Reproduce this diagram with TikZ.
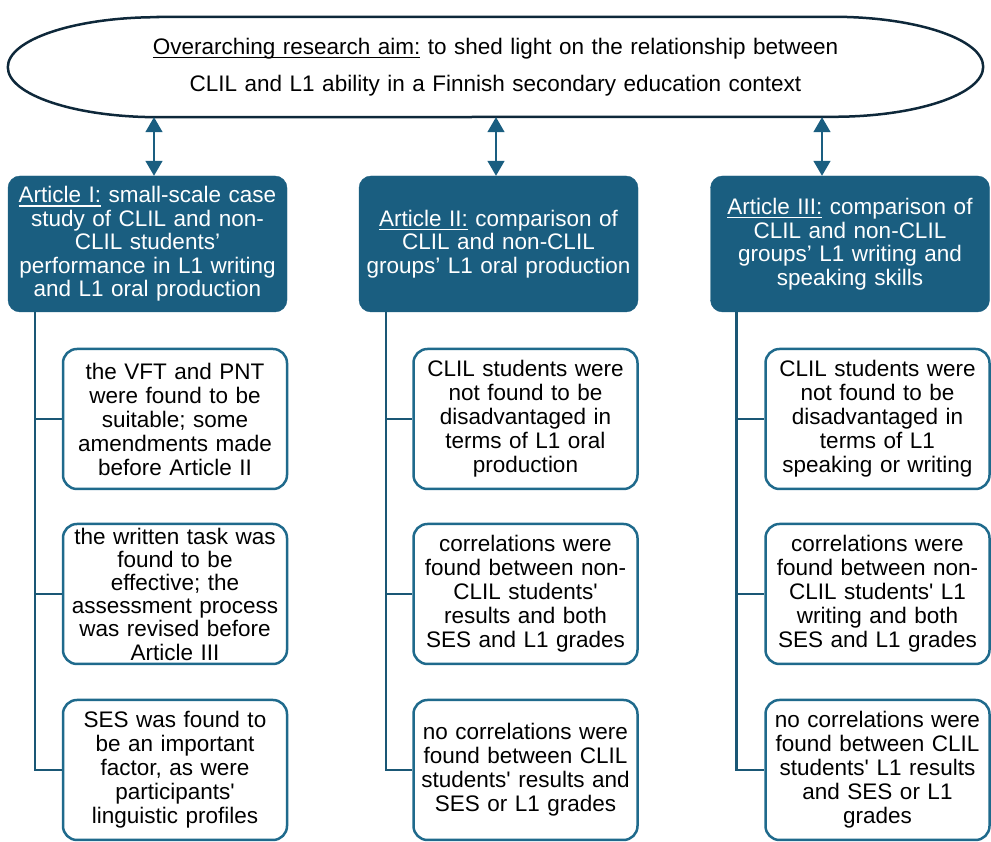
\documentclass[tikz,border=0pt]{standalone}
\usepackage{fontspec}
\setmainfont{Liberation Sans}
\usetikzlibrary{shapes,arrows.meta,positioning}
\definecolor{artblue}{HTML}{1A5E80}
\definecolor{boxblue}{HTML}{1F6A8C}
\definecolor{stemblue}{HTML}{1A5775}
\definecolor{aimnavy}{HTML}{0E283A}
\newcommand{\ulbox}[1]{\setbox0\hbox{#1}\rlap{\vrule height -2.3pt depth 3.8pt width \wd0}\box0\relax}
\tikzstyle{aim} = [rectangle, minimum width=975pt, minimum height=100pt,
    inner sep=0pt, text width=920pt, align=center, font=\fontsize{22.5}{37}\selectfont]
\tikzstyle{article} = [rectangle, draw=artblue, fill=artblue, text=white,
    text width=272pt, align=center, rounded corners=12pt, minimum width=279pt,
    minimum height=136pt, inner sep=0pt, font=\fontsize{22.5}{23.5}\selectfont]
\tikzstyle{finding} = [rectangle, draw=boxblue, line width=2.5pt, fill=white,
    text width=210pt, align=center, rounded corners=14pt, minimum width=224pt,
    minimum height=140pt, inner sep=0pt, font=\fontsize{22.5}{24}\selectfont]
\tikzstyle{link} = [draw=artblue, line width=1.5pt,
    {Triangle[width=17pt,length=15pt]}-{Triangle[width=17pt,length=15pt]}]
\tikzstyle{stem} = [draw=stemblue, line width=2.5pt]

\begin{document}
\begin{tikzpicture}[x=1pt, y=1pt, node distance=175pt]
        \useasboundingbox (0,0) rectangle (991,842);
        % Place nodes
        \node [aim] (aim) at (495.5,775) {\ulbox{Overarching research aim:} to shed light on the relationship between\\CLIL and L1 ability in a Finnish secondary education context};
        \node [article] (artA) at (147.5,598) {\ulbox{Article I:} small-scale case\\study of CLIL and non-\\CLIL students’\\performance in L1 writing\\and L1 oral production};
        \node [article] (artB) at (498.5,598) {\ulbox{Article II:} comparison of\\CLIL and non-CLIL\\groups’ L1 oral production};
        \node [article] (artC) at (850,598) {\ulbox{Article III:} comparison of\\CLIL and non-CLIL\\groups’ L1 writing and\\speaking skills};
        \node [finding, below of=artA, xshift=27.5pt] (a1) {the VFT and PNT\\were found to be\\suitable; some\\amendments made\\before Article II};
        \node [finding, below of=a1, font=\fontsize{22.5}{23.2}\selectfont] (a2) {the written task was\\found to be\\effective; the\\assessment process\\was revised before\\Article III};
        \node [finding, below of=a2, node distance=176pt] (a3) {SES was found to\\be an important\\factor, as were\\participants\textquotesingle\\linguistic profiles};
        \node [finding, below of=artB, xshift=27pt] (b1) {CLIL students were\\not found to be\\disadvantaged in\\terms of L1 oral\\production};
        \node [finding, below of=b1] (b2) {correlations were\\found between non-\\CLIL students\textquotesingle\\results and both\\SES and L1 grades};
        \node [finding, below of=b2, node distance=176pt] (b3) {no correlations were\\found between CLIL\\students\textquotesingle{} results and\\SES or L1 grades};
        \node [finding, below of=artC, xshift=27.5pt] (c1) {CLIL students were\\not found to be\\disadvantaged in\\terms of L1\\speaking or writing};
        \node [finding, below of=c1] (c2) {correlations were\\found between non-\\CLIL students\textquotesingle{} L1\\writing and both\\SES and L1 grades};
        \node [finding, below of=c2, node distance=176pt] (c3) {no correlations were\\found between CLIL\\students\textquotesingle{} L1 results\\and SES or L1\\grades};
        \coordinate (tA) at ([xshift=27pt]artA.south west);
        \coordinate (tB) at ([xshift=27pt]artB.south west);
        \coordinate (tC) at ([xshift=26pt]artC.south west);
        % Draw the aim outline
        \draw [aimnavy, line width=2.5pt] ([xshift=150pt]aim.north west) -- ([xshift=-150pt]aim.north east)
            arc [start angle=90, end angle=-90, x radius=150pt, y radius=50pt]
            -- ([xshift=150pt]aim.south west)
            arc [start angle=270, end angle=90, x radius=150pt, y radius=50pt] -- cycle;
        % Draw edges
        \path [link] ([xshift=6.5pt]artA.north) -- ([xshift=6.5pt]artA.north |- aim.south);
        \path [link] ([xshift=-2.5pt]artB.north) -- ([xshift=-2.5pt]artB.north |- aim.south);
        \path [link] ([xshift=-28pt]artC.north) -- ([xshift=-28pt]artC.north |- aim.south);
        \path [stem] (tA) |- (a3.west);
        \path [stem] (tA |- a1.west) -- (a1.west);
        \path [stem] (tA |- a2.west) -- (a2.west);
        \path [stem] (tB) |- (b3.west);
        \path [stem] (tB |- b1.west) -- (b1.west);
        \path [stem] (tB |- b2.west) -- (b2.west);
        \path [stem] (tC) |- (c3.west);
        \path [stem] (tC |- c1.west) -- (c1.west);
        \path [stem] (tC |- c2.west) -- (c2.west);
\end{tikzpicture}
\end{document}
